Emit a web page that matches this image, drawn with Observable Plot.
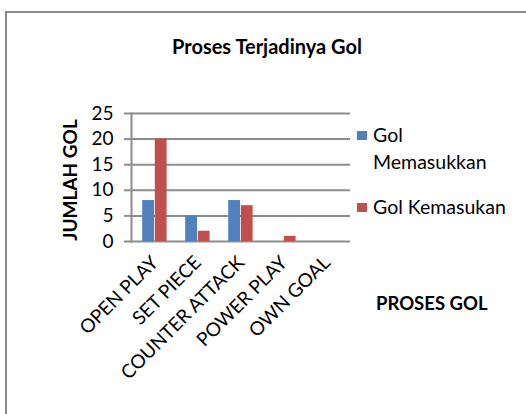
<!DOCTYPE html>
<html>
<head>
<meta charset="utf-8">
<script src="https://cdn.jsdelivr.net/npm/d3@7"></script>
<script src="https://cdn.jsdelivr.net/npm/@observablehq/plot@0.6"></script>
<style>
  html, body { margin: 0; padding: 0; background: #fff; }
  #wrap { position: relative; width: 526px; height: 414px; overflow: hidden; font-family: Lato, "Open Sans", sans-serif; color: #000; }
  #border { position: absolute; left: 5px; top: 11px; width: 700px; height: 700px; border: 2px solid #8a8a8a; box-sizing: border-box; }
  #chart { position: absolute; left: 0; top: 0; }
  .t { position: absolute; white-space: nowrap; line-height: 22px; }
  .sw { position: absolute; width: 10px; height: 9px; }
</style>
</head>
<body>
<div id="wrap">
  <div id="border"></div>
  <div id="chart"></div>
  <div class="t" id="title" style="left:0; width:534px; text-align:center; top:35px; font-size:20px; font-weight:700;"></div>
  <div class="t" id="ylabel" style="left:70px; top:180px; font-size:19px; font-weight:700; transform:translate(-50%,-50%) rotate(-90deg);"></div>
  <div class="t" id="xlabel" style="left:376px; top:292px; font-size:18.5px; font-weight:700;"></div>
  <div class="sw" id="sw0" style="left:357px; top:131px;"></div>
  <div class="t" id="leg0a" style="left:373px; top:124px; font-size:19.5px;"></div>
  <div class="t" id="leg0b" style="left:373px; top:151px; font-size:19.5px;"></div>
  <div class="sw" id="sw1" style="left:357px; top:203px;"></div>
  <div class="t" id="leg1" style="left:373px; top:196px; font-size:19.5px;"></div>
</div>
<script>
const titleText = "Proses Terjadinya Gol";
const yTitle = "JUMLAH GOL";
const xTitle = "PROSES GOL";
const categories = ["OPEN PLAY", "SET PIECE", "COUNTER ATTACK", "POWER PLAY", "OWN GOAL"];
const seriesNames = ["Gol Memasukkan", "Gol Kemasukan"];
const golMemasukkan = [8, 5, 8, 0, 0];
const golKemasukan = [20, 2, 7, 1, 0];
const yTicks = [0, 5, 10, 15, 20, 25];
const colors = ["#4F81BD", "#C0504D"];

const data0 = categories.map((c, i) => ({category: c, value: golMemasukkan[i]}));
const data1 = categories.map((c, i) => ({category: c, value: golKemasukan[i]}));

const gray = "#8c8c8c";
const chart = Plot.plot({
  width: 526,
  height: 414,
  marginLeft: 131,
  marginRight: 176,
  marginTop: 113,
  marginBottom: 173,
  style: {fontFamily: "Lato, 'Open Sans', sans-serif", color: "#000", background: "transparent"},
  x: {domain: categories, padding: 0, label: null},
  y: {domain: [0, 25], label: null},
  marks: [
    Plot.gridY(yTicks, {stroke: gray, strokeOpacity: 1, strokeWidth: 2}),
    Plot.axisY(yTicks, {tickSize: 7, tickPadding: 11, stroke: gray, strokeWidth: 2, fontSize: 19, label: null}),
    Plot.frame({anchor: "left", stroke: gray, strokeWidth: 2}),
    Plot.barY(data0, {x: "category", y: "value", fill: colors[0], insetLeft: 9.2, insetRight: 22}),
    Plot.barY(data1, {x: "category", y: "value", fill: colors[1], insetLeft: 21.8, insetRight: 9.4}),
    Plot.axisX({tickSize: 0, tickPadding: 18, tickRotate: -45, fontSize: 19, label: null})
  ]
});
document.getElementById("chart").appendChild(chart);
document.getElementById("title").textContent = titleText;
document.getElementById("ylabel").textContent = yTitle;
document.getElementById("xlabel").textContent = xTitle;
document.getElementById("sw0").style.background = colors[0];
document.getElementById("sw1").style.background = colors[1];
const parts = seriesNames[0].split(" ");
document.getElementById("leg0a").textContent = parts[0];
document.getElementById("leg0b").textContent = parts.slice(1).join(" ");
document.getElementById("leg1").textContent = seriesNames[1];
</script>
</body>
</html>
